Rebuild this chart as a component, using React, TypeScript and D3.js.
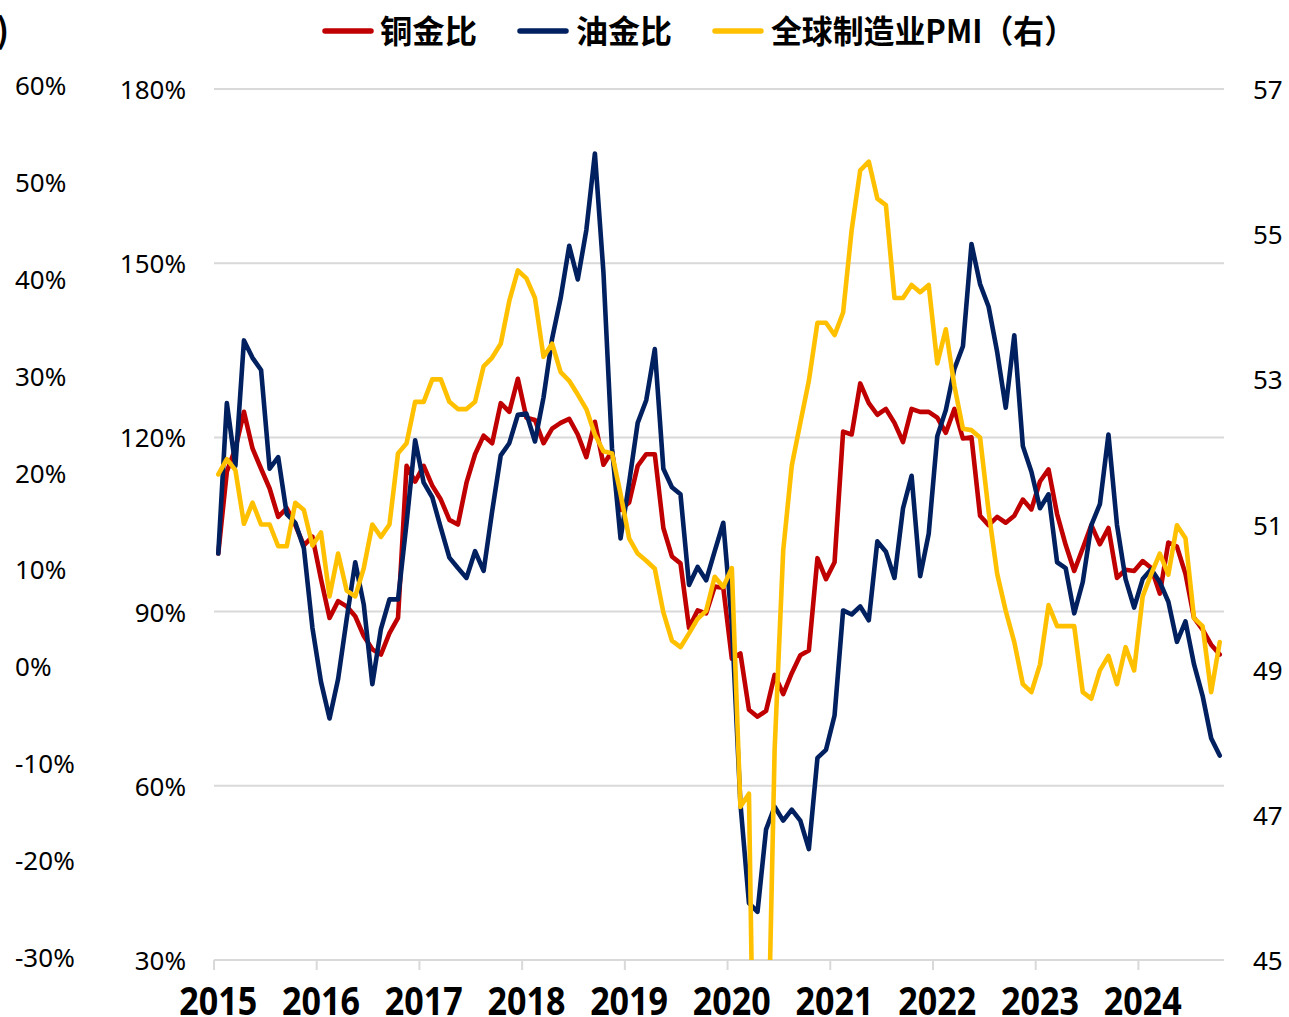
import React from "react";
import * as d3 from "d3";

const years = ["2015", "2016", "2017", "2018", "2019", "2020", "2021", "2022", "2023", "2024"];

// 铜金比 (left axis, %), monthly Jan 2015 – Oct 2024
const copperGold = [
  100.0, 114.1, 118.1, 124.4, 118.1, 114.6, 111.2, 106.3, 107.8, 104.9, 101.4, 102.9,
  95.6, 88.9, 91.8, 90.9, 89.2, 85.8, 83.5, 82.6, 86.3, 88.9, 115.1, 112.4,
  115.1, 111.7, 109.3, 105.8, 105.0, 112.2, 117.1, 120.3, 119.0, 125.9, 124.4, 130.1,
  123.4, 123.0, 119.0, 121.5, 122.5, 123.2, 120.5, 116.6, 122.7, 115.3, 117.6, 107.5,
  108.8, 115.1, 117.1, 117.1, 104.4, 99.5, 98.3, 87.2, 90.2, 89.7, 94.3, 94.1,
  81.9, 82.8, 73.1, 71.9, 72.9, 79.1, 75.8, 79.4, 82.5, 83.3, 99.2, 95.6,
  98.5, 121.0, 120.5, 129.3, 125.9, 123.9, 124.9, 122.5, 119.2, 124.9, 124.4, 124.4,
  123.4, 120.8, 124.9, 119.8, 120.0, 106.5, 104.9, 106.3, 105.3, 106.5, 109.3, 107.6,
  112.4, 114.5, 106.8, 101.5, 97.0, 100.9, 104.9, 101.6, 104.4, 95.8, 97.2, 97.0,
  98.7, 97.5, 93.1, 101.9, 101.2, 96.5, 88.9, 86.9, 84.3, 82.6,
];

// 油金比 (left axis, %)
const oilGold = [
  100.0, 125.9, 115.1, 136.7, 133.7, 131.6, 114.6, 116.6, 106.8, 105.3, 100.9, 87.2,
  77.9, 71.6, 78.4, 88.7, 98.5, 91.2, 77.5, 87.0, 92.1, 92.1, 105.3, 119.5,
  112.2, 109.7, 104.4, 99.3, 97.5, 95.8, 100.4, 97.0, 107.3, 116.9, 119.0, 123.9,
  124.1, 119.3, 126.9, 137.0, 144.0, 153.0, 147.2, 155.7, 168.9, 148.4, 118.1, 102.6,
  112.2, 122.5, 126.4, 135.2, 114.6, 111.4, 110.2, 94.6, 97.7, 95.4, 100.4, 105.3,
  88.0, 57.0, 39.8, 38.3, 52.5, 56.4, 54.0, 55.9, 54.0, 49.1, 64.8, 66.2,
  72.1, 90.2, 89.5, 90.9, 88.5, 102.1, 100.3, 95.8, 107.8, 113.4, 96.1, 103.4,
  120.2, 124.7, 131.8, 135.7, 153.3, 146.4, 142.5, 134.7, 125.1, 137.6, 118.5, 114.1,
  107.8, 110.2, 98.5, 97.5, 89.7, 95.1, 104.9, 108.5, 120.5, 104.9, 95.6, 90.7,
  95.6, 97.3, 95.1, 91.7, 84.8, 88.3, 80.9, 75.5, 68.2, 65.2,
];

// 全球制造业PMI (right axis)
const pmi = [
  51.69, 51.9, 51.75, 51.01, 51.3, 51.0, 51.0, 50.7, 50.7, 51.3, 51.2, 50.71,
  50.89, 50.01, 50.6, 50.09, 50.01, 50.4, 51.0, 50.83, 51.0, 51.98, 52.12, 52.69,
  52.69, 53.0, 53.0, 52.69, 52.59, 52.59, 52.69, 53.18, 53.3, 53.49, 54.08, 54.5,
  54.39, 54.12, 53.31, 53.49, 53.1, 52.98, 52.79, 52.59, 52.24, 52.01, 51.98, 51.42,
  50.81, 50.6, 50.5, 50.39, 49.79, 49.4, 49.31, 49.5, 49.7, 49.81, 50.28, 50.14,
  50.4, 47.11, 47.29, 39.6, 42.4, 47.9, 50.64, 51.81, 52.4, 52.98, 53.78, 53.78,
  53.61, 53.92, 55.06, 55.88, 56.0, 55.49, 55.4, 54.12, 54.12, 54.3, 54.2, 54.3,
  53.22, 53.69, 52.91, 52.32, 52.3, 52.2, 51.18, 50.32, 49.81, 49.38, 48.8, 48.69,
  49.07, 49.89, 49.6, 49.6, 49.6, 48.69, 48.6, 48.99, 49.19, 48.8, 49.31, 48.99,
  50.01, 50.32, 50.6, 50.31, 50.99, 50.81, 49.71, 49.6, 48.69, 49.38,
];

const leftTicks = [30, 60, 90, 120, 150, 180];
const rightTicks = [45, 47, 49, 51, 53, 55, 57];
const farLeftTicks = [-30, -20, -10, 0, 10, 20, 30, 40, 50, 60];

const seriesNames = ["铜金比", "油金比", "全球制造业PMI（右）"];
const seriesColors = ["#c00000", "#002060", "#ffc000"];

const W = 1289;
const H = 1017;

export default function App() {
  const n = copperGold.length;
  const x = d3.scaleBand<number>().domain(d3.range(n)).range([214, 1224]).padding(0);
  const bw = x.bandwidth();
  const cx = (i: number) => (x(i) as number) + bw / 2;
  const yL = d3.scaleLinear().domain([30, 180]).range([960, 89]);
  const yR = d3.scaleLinear().domain([45, 57]).range([960, 89]);
  const yFar = d3.scaleLinear().domain([-30, 60]).range([957, 85]);

  const lineL = d3.line<number>().x((_, i) => cx(i)).y((d) => yL(d));
  const lineR = d3.line<number>().x((_, i) => cx(i)).y((d) => yR(d));

  const numFont = "'Noto Sans', 'DejaVu Sans', sans-serif";
  const cjkFont = "'Noto Sans CJK SC', 'Noto Sans', sans-serif";

  const legend = [
    { x1: 323, tx: 380, name: seriesNames[0], color: seriesColors[0], len: 97 },
    { x1: 518, tx: 576, name: seriesNames[1], color: seriesColors[1], len: 96 },
    { x1: 713, tx: 771, name: seriesNames[2], color: seriesColors[2], len: 304 },
  ];

  return (
    <svg
      width={W}
      height={H}
      style={{ position: "absolute", left: 0, top: 0, background: "#fff" }}
    >
      <defs>
        <clipPath id="plot">
          <rect x={214} y={70} width={1012} height={890} />
        </clipPath>
      </defs>
      <rect x={0} y={0} width={W} height={H} fill="#fff" />

      {/* gridlines */}
      {leftTicks.map((t) => (
        <line key={t} x1={214} x2={1224} y1={yL(t)} y2={yL(t)} stroke="#d9d9d9" strokeWidth={2} />
      ))}
      {/* x ticks */}
      {years.map((y, k) => (
        <line key={y} x1={x(k * 12) as number} x2={x(k * 12) as number} y1={960} y2={970} stroke="#d9d9d9" strokeWidth={2} />
      ))}

      {/* series */}
      <g clipPath="url(#plot)" fill="none" strokeWidth={4.6} strokeLinejoin="round" strokeLinecap="round">
        <path d={lineL(copperGold) as string} stroke={seriesColors[0]} />
        <path d={lineL(oilGold) as string} stroke={seriesColors[1]} />
        <path d={lineR(pmi) as string} stroke={seriesColors[2]} />
      </g>

      {/* far left axis labels */}
      {farLeftTicks.map((t) => (
        <text key={t} x={15} y={yFar(t)} dominantBaseline="central" fontFamily={numFont} fontSize={26} fill="#000">
          {t}%
        </text>
      ))}
      {/* left axis labels */}
      {leftTicks.map((t) => (
        <text key={t} x={186} y={yL(t)} textAnchor="end" dominantBaseline="central" fontFamily={numFont} fontSize={26} fill="#000">
          {t}%
        </text>
      ))}
      {/* right axis labels */}
      {rightTicks.map((t) => (
        <text key={t} x={1253} y={yR(t)} dominantBaseline="central" fontFamily={numFont} fontSize={26} fill="#000">
          {t}
        </text>
      ))}
      {/* year labels */}
      {years.map((y, k) => (
        <text
          key={y}
          x={cx(k * 12)}
          y={1015}
          textAnchor="middle"
          fontFamily={numFont}
          fontWeight="bold"
          fontSize={39}
          textLength={78}
          lengthAdjust="spacingAndGlyphs"
          fill="#000"
        >
          {y}
        </text>
      ))}

      {/* top-left cut-off title */}
      <text x={9} y={28} textAnchor="end" dominantBaseline="central" fontFamily={cjkFont} fontSize={34} fontWeight="bold" fill="#000">
        )
      </text>

      {/* legend */}
      {legend.map((l) => (
        <g key={l.name}>
          <line x1={l.x1 + 2} x2={l.x1 + 48} y1={31} y2={31} stroke={l.color} strokeWidth={5.5} strokeLinecap="round" />
          <text
            x={l.tx}
            y={29}
            dominantBaseline="central"
            fontFamily={cjkFont}
            fontWeight="bold"
            fontSize={32}
            textLength={l.len}
            lengthAdjust="spacingAndGlyphs"
            fill="#000"
          >
            {l.name}
          </text>
        </g>
      ))}
    </svg>
  );
}
